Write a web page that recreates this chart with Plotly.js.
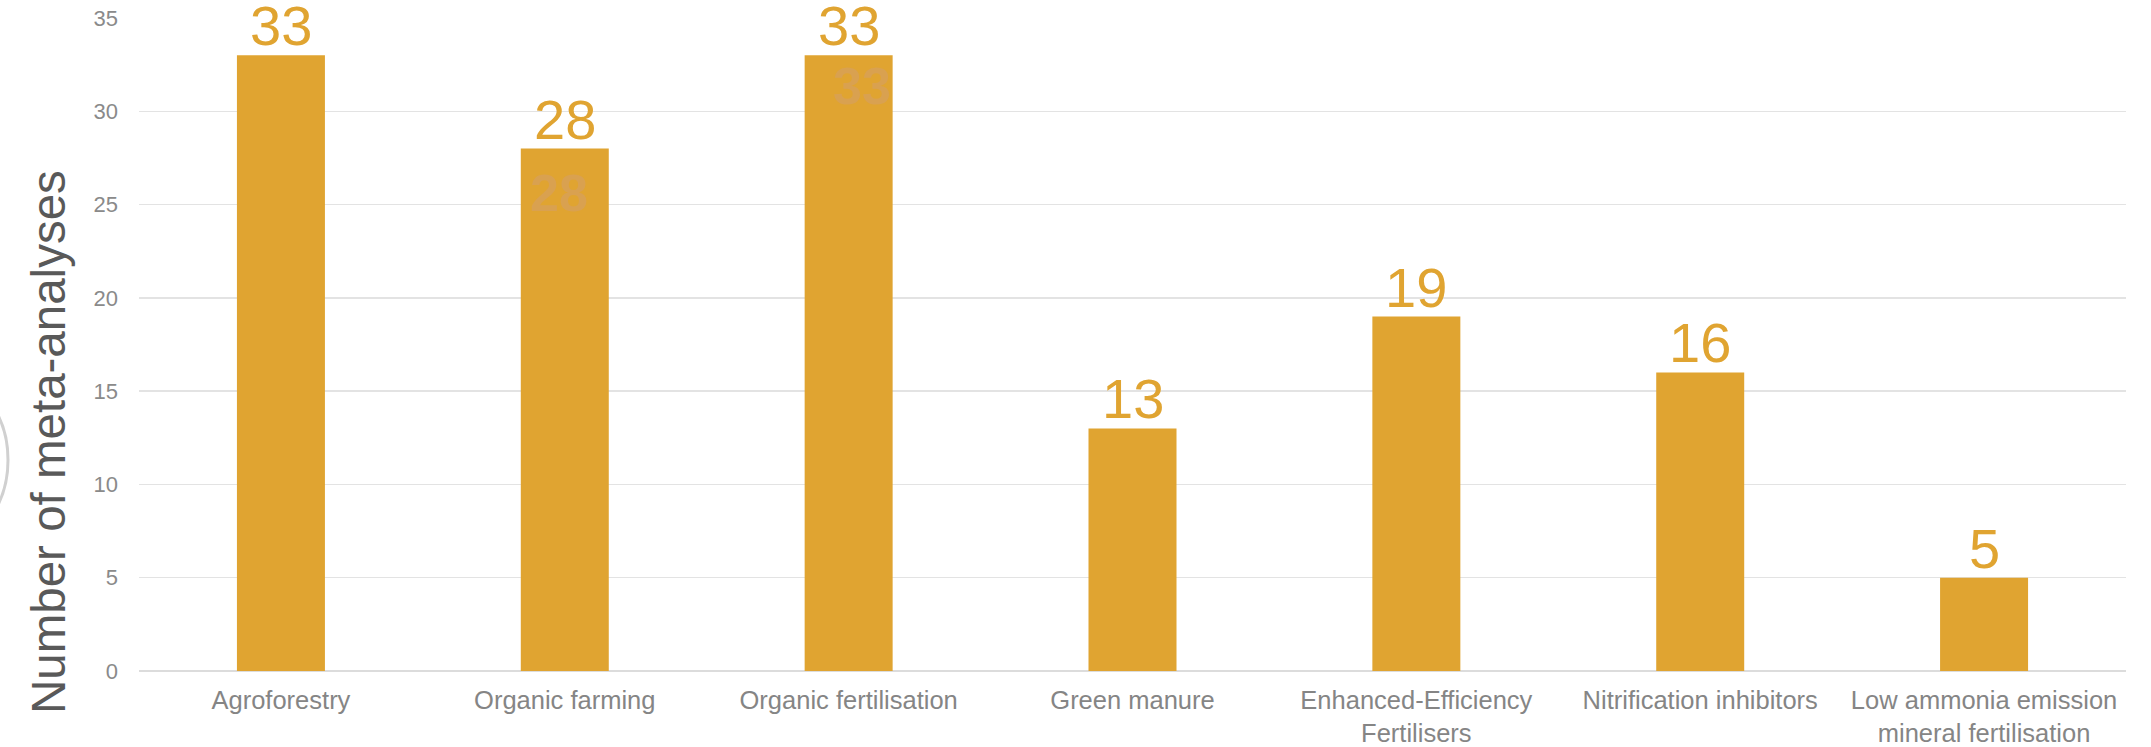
<!DOCTYPE html>
<html>
<head>
<meta charset="utf-8">
<script src="https://cdn.plot.ly/plotly-3.0.1.min.js"></script>
<style>html,body{margin:0;padding:0;background:#fff;}#chart{width:2151px;height:747px;}</style>
</head>
<body>
<div id="chart"></div>
<script>
const categories = ["Agroforestry", "Organic farming", "Organic fertilisation", "Green manure", "Enhanced-Efficiency<br>Fertilisers", "Nitrification inhibitors", "Low ammonia emission<br>mineral fertilisation"];
const counts = [33, 28, 33, 13, 19, 16, 5];
const yTicks = [0, 5, 10, 15, 20, 25, 30, 35];
const yTitle = "Number of meta-analyses";
// faint duplicate labels visible inside two bars in the source image
const ghostIdx = [1, 2];
const ghostDrop = [2.4, 1.65];
const ghostShift = [-6, 13];

const W = 2151, H = 747;
const M = {l: 139, r: 25, t: 18, b: 76};
const FONT = "Liberation Sans, Arial, sans-serif";
const barColor = "#E0A431";

const trace = {
  type: "bar",
  x: categories,
  y: counts,
  marker: {color: barColor},
  cliponaxis: false,
  hoverinfo: "none"
};

const px2paperX = px => (px - M.l) / (W - M.l - M.r);
const px2paperY = py => (H - M.b - py) / (H - M.t - M.b);

// value labels above bars
const annotations = categories.map((c, i) => ({
  x: c, y: counts[i], xref: "x", yref: "y",
  text: String(counts[i]), showarrow: false,
  yanchor: "bottom", yshift: -4,
  font: {family: FONT, size: 56, color: barColor}
}));
ghostIdx.forEach((i, k) => annotations.push({
  x: categories[i], y: counts[i] - ghostDrop[k], xref: "x", yref: "y",
  xshift: ghostShift[k],
  text: "<b>" + counts[i] + "</b>", showarrow: false,
  font: {family: FONT, size: 52, color: "#D9A150"}
}));
annotations.push({
  text: yTitle, showarrow: false, textangle: -90,
  xref: "paper", yref: "paper",
  x: px2paperX(48), y: px2paperY(442), xanchor: "center", yanchor: "middle",
  font: {family: FONT, size: 47.5, color: "#595959"}
});

const layout = {
  width: W, height: H,
  margin: M,
  paper_bgcolor: "#fff", plot_bgcolor: "#fff",
  bargap: 0.69,
  showlegend: false,
  xaxis: {
    type: "category",
    tickfont: {family: FONT, size: 25.5, color: "#858585"},
    showgrid: false, showline: false, ticks: "",
    ticklabelstandoff: 11,
    automargin: false
  },
  yaxis: {
    range: [0, 35], tickvals: yTicks, ticktext: yTicks.map(String),
    tickfont: {family: FONT, size: 22, color: "#8A8A8A"},
    gridcolor: "#E3E3E3", gridwidth: 1.5,
    zeroline: true, zerolinecolor: "#DCDCDC", zerolinewidth: 2,
    showline: false, ticks: "",
    ticklabelstandoff: 20,
    automargin: false
  },
  shapes: [{
    type: "circle", xref: "paper", yref: "paper",
    x0: px2paperX(-110), x1: px2paperX(8), y0: px2paperY(540), y1: px2paperY(380),
    line: {color: "#D0D0D0", width: 3}, fillcolor: "rgba(0,0,0,0)", layer: "above"
  }],
  annotations: annotations
};

Plotly.newPlot("chart", [trace], layout, {displayModeBar: false, staticPlot: true});
</script>
</body>
</html>
